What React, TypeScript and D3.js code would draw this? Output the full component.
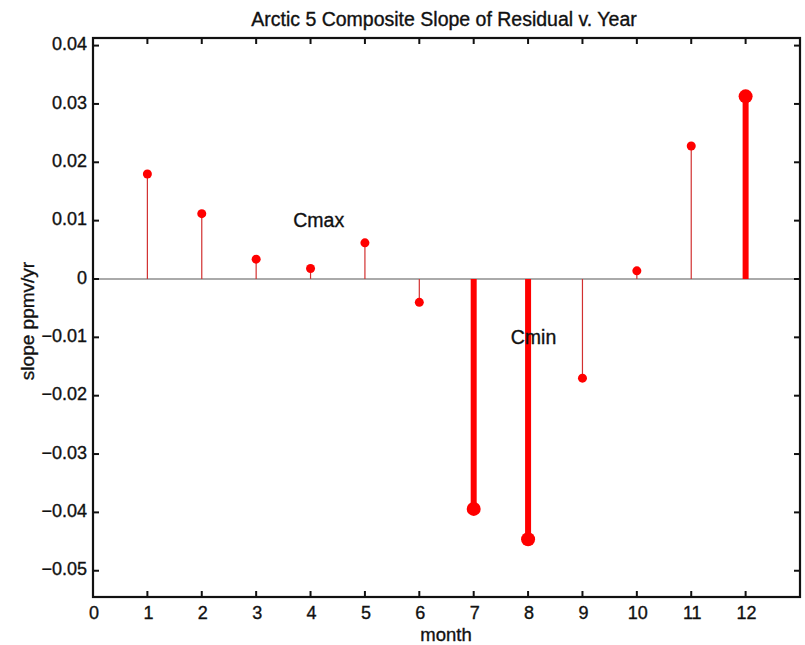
import React from "react";
import * as d3 from "d3";

const months = [1, 2, 3, 4, 5, 6, 7, 8, 9, 10, 11, 12];
const slopes = [0.018, 0.0112, 0.0034, 0.0018, 0.0062, -0.0040, -0.0394, -0.0446, -0.0170, 0.0014, 0.0228, 0.0313];
const highlighted = [7, 8, 12];
const xTicks = [0, 1, 2, 3, 4, 5, 6, 7, 8, 9, 10, 11, 12];
const yTicks = [0.04, 0.03, 0.02, 0.01, 0, -0.01, -0.02, -0.03, -0.04, -0.05];
const annotations = [
  { text: "Cmax", month: 4.15, value: 0.0098 },
  { text: "Cmin", month: 8.1, value: -0.0102 },
];

const W = 805, H = 645;
const M = { left: 93, right: 5, top: 38, bottom: 48 };

export default function App() {
  const x = d3.scaleLinear().domain([0, 13]).range([M.left, W - M.right]);
  const y = d3.scaleLinear().domain([-0.0545, 0.0413]).range([H - M.bottom, M.top]);
  const font = "'Liberation Sans', Arial, Helvetica, sans-serif";
  const fmt = (v: number) => (v === 0 ? "0" : d3.format(".2f")(v).replace("-", "\u2212"));
  const x0 = M.left, x1 = W - M.right, y0 = M.top, y1 = H - M.bottom;
  const tl = 6;
  const txt = { fill: "#111", stroke: "#111", strokeWidth: 0.35 };
  return (
    <svg width={W} height={H} style={{ position: "absolute", left: 0, top: 0, background: "#fff" }} fontFamily={font}>
      <text x={444} y={26} textAnchor="middle" fontSize={19.5} {...txt}>Arctic 5 Composite Slope of Residual v. Year</text>
      <line x1={x0} x2={x1} y1={y(0)} y2={y(0)} stroke="#aaa" strokeWidth={2} />
      {months.map((m, i) => {
        const big = highlighted.includes(m);
        return (
          <g key={m}>
            <line x1={x(m)} x2={x(m)} y1={y(0)} y2={y(slopes[i])} stroke={big ? "#ff0000" : "#d23030"} strokeWidth={big ? 6 : 1.2} />
            <circle cx={x(m)} cy={y(slopes[i])} r={big ? 7 : 4.5} fill="#ff0000" />
          </g>
        );
      })}
      {annotations.map((a) => (
        <text key={a.text} x={x(a.month)} y={y(a.value)} textAnchor="middle" dominantBaseline="middle" fontSize={19.5} {...txt}>{a.text}</text>
      ))}
      <rect x={x0} y={y0} width={x1 - x0} height={y1 - y0} fill="none" stroke="#111" strokeWidth={2.2} />
      {xTicks.map((t) => (
        <g key={"x" + t}>
          <line x1={x(t)} x2={x(t)} y1={y1} y2={y1 - tl} stroke="#111" strokeWidth={2} />
          <line x1={x(t)} x2={x(t)} y1={y0} y2={y0 + tl} stroke="#111" strokeWidth={2} />
          <text x={x(t) + 1} y={y1 + 22} textAnchor="middle" fontSize={18} {...txt}>{t}</text>
        </g>
      ))}
      {yTicks.map((t) => (
        <g key={"y" + t}>
          <line x1={x0} x2={x0 + tl} y1={y(t)} y2={y(t)} stroke="#111" strokeWidth={2} />
          <line x1={x1} x2={x1 - tl} y1={y(t)} y2={y(t)} stroke="#111" strokeWidth={2} />
          <text x={x0 - 6} y={y(t)} textAnchor="end" dominantBaseline="middle" fontSize={18} {...txt}>{fmt(t)}</text>
        </g>
      ))}
      <text x={446} y={641} textAnchor="middle" fontSize={18.5} {...txt}>month</text>
      <text transform={`translate(34, 321) rotate(-90)`} textAnchor="middle" fontSize={19} {...txt}>slope ppmv/yr</text>
    </svg>
  );
}
